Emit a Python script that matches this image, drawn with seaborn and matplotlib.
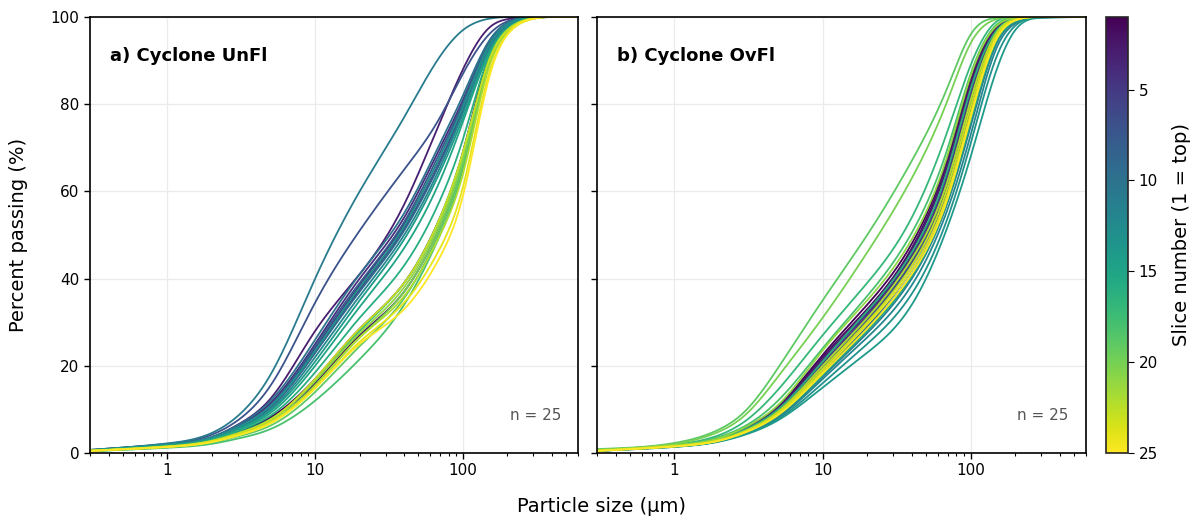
import numpy as np
import pandas as pd
import matplotlib
matplotlib.use("Agg")
import matplotlib.pyplot as plt
import matplotlib.ticker as mticker
import seaborn as sns

# ---------------- data (percent passing at the sieve sizes) ----------------
sizes_um = [0.3, 1, 2, 3, 5, 10, 20, 40, 70, 100, 150, 200, 300, 600]
slices = list(range(1, 26))

unfl = {
    1:  [0.5, 1.5, 2.9, 4.8, 8.2, 17, 28.5, 39, 54, 69, 91, 97.5, 99.8, 100],
    2:  [0.5, 1.5, 2.8, 4.6, 7.8, 16, 27, 37, 52, 67, 90, 97, 99.7, 100],
    3:  [0.6, 1.8, 3.6, 6.5, 12.5, 28, 41, 57, 76, 88, 97.5, 99.5, 100, 100],
    4:  [0.6, 1.9, 3.6, 6.2, 11.5, 25, 40, 54, 70, 81, 94, 98.5, 99.9, 100],
    5:  [0.6, 1.9, 3.5, 6.0, 11, 24, 38.5, 52.5, 68, 80, 93.5, 98.3, 99.9, 100],
    6:  [0.6, 1.8, 3.4, 5.8, 10.5, 23, 37.5, 51.5, 67, 79, 93, 98, 99.8, 100],
    7:  [0.7, 2.1, 4.2, 7.5, 15.5, 34.5, 51, 65, 77, 87, 96, 99, 100, 100],
    8:  [0.6, 1.9, 3.5, 6.0, 11, 24.5, 39, 53, 69, 80.5, 94, 98.5, 99.9, 100],
    9:  [0.6, 1.9, 3.4, 5.8, 10.5, 23, 37, 51, 66.5, 78.5, 93, 98, 99.8, 100],
    10: [0.7, 2.0, 3.7, 6.4, 12, 26, 41, 55, 71, 82, 94.5, 98.7, 99.9, 100],
    11: [0.7, 2.2, 4.6, 8.5, 18, 40, 60, 77, 91, 97, 99.6, 100, 100, 100],
    12: [0.6, 1.8, 3.3, 5.6, 10, 22, 36, 50, 65.5, 78, 92.5, 97.8, 99.8, 100],
    13: [0.6, 1.9, 3.5, 5.9, 10.8, 23.5, 38, 52, 68, 79.5, 93.5, 98.3, 99.9, 100],
    14: [0.6, 1.8, 3.2, 5.4, 9.7, 21, 35, 49, 64.5, 77, 92, 97.5, 99.8, 100],
    15: [0.6, 1.7, 3.1, 5.2, 9.2, 20, 33.5, 47, 62.5, 76, 91.5, 97.3, 99.8, 100],
    16: [0.5, 1.6, 3.0, 5.0, 8.6, 18.5, 31, 43, 58, 72, 91, 97.2, 99.8, 100],
    17: [0.5, 1.5, 2.8, 4.6, 7.8, 16.5, 28, 39, 54, 69, 90, 97, 99.7, 100],
    18: [0.4, 1.2, 2.1, 3.3, 5.5, 12, 21.5, 34, 50, 65, 89, 96.5, 99.7, 100],
    19: [0.4, 1.3, 2.4, 3.8, 6.3, 14, 24.5, 35.5, 51, 66, 89, 96.5, 99.7, 100],
    20: [0.5, 1.4, 2.6, 4.2, 7.2, 15.5, 26.5, 37, 52, 67, 89.5, 96.8, 99.7, 100],
    21: [0.5, 1.5, 2.7, 4.4, 7.5, 16.5, 27.5, 38, 53, 68, 90, 97, 99.7, 100],
    22: [0.5, 1.4, 2.6, 4.2, 7.1, 15.5, 26.5, 36, 50, 64, 88.5, 96.5, 99.7, 100],
    23: [0.5, 1.5, 2.8, 4.5, 7.7, 17, 28.5, 39, 54, 69, 90, 97, 99.7, 100],
    24: [0.5, 1.4, 2.6, 4.1, 7.0, 15, 25.5, 34.5, 47, 61, 87, 96, 99.6, 100],
    25: [0.5, 1.4, 2.5, 4.0, 6.8, 14.8, 25, 33, 45, 59, 86, 96, 99.6, 100],
}

ovfl = {
    1:  [0.6, 1.8, 3.4, 5.8, 10.8, 22.5, 34, 48, 68, 86, 97.8, 99.7, 100, 100],
    2:  [0.6, 1.8, 3.3, 5.6, 10.5, 22, 33, 47, 67, 85, 97.5, 99.7, 100, 100],
    3:  [0.6, 1.8, 3.3, 5.5, 10.3, 21.5, 32.5, 46.5, 66, 84, 97.3, 99.6, 100, 100],
    4:  [0.6, 1.7, 3.2, 5.4, 10, 21, 32, 45.5, 64.5, 83, 97, 99.6, 100, 100],
    5:  [0.6, 1.7, 3.1, 5.3, 9.8, 20.5, 31.5, 45, 63.5, 82, 96.7, 99.5, 100, 100],
    6:  [0.5, 1.6, 3.0, 5.1, 9.5, 20, 31, 44, 62.5, 81, 96.3, 99.5, 100, 100],
    7:  [0.5, 1.6, 3.0, 5.0, 9.3, 19.5, 30.5, 43.5, 61.5, 80, 96, 99.4, 100, 100],
    8:  [0.5, 1.6, 2.9, 4.9, 9.1, 19, 30, 43, 60.5, 79, 95.7, 99.3, 100, 100],
    9:  [0.5, 1.5, 2.9, 4.8, 8.9, 18.5, 29, 42, 59.5, 78, 95.3, 99.2, 100, 100],
    10: [0.5, 1.5, 2.8, 4.7, 8.6, 18, 28.5, 41, 58.5, 76.5, 94.8, 99, 100, 100],
    11: [0.5, 1.5, 2.8, 4.6, 8.4, 17.5, 27.5, 40, 57.5, 75, 94, 98.8, 100, 100],
    12: [0.5, 1.5, 2.7, 4.5, 8.1, 17, 26.5, 38.5, 56, 73, 93, 98.5, 99.9, 100],
    13: [0.5, 1.4, 2.7, 4.4, 7.8, 16, 25, 36.5, 54, 71, 91, 98, 99.9, 100],
    14: [0.5, 1.4, 2.6, 4.2, 7.5, 15, 23, 34, 52, 68, 88, 97, 99.8, 100],
    15: [0.5, 1.5, 2.8, 4.7, 8.6, 17.8, 28, 40.5, 58, 76, 94.5, 99, 100, 100],
    16: [0.6, 1.7, 3.2, 5.4, 10, 21, 32.5, 46, 65, 83.5, 97, 99.6, 100, 100],
    17: [0.7, 1.9, 4.1, 7.3, 14.5, 27, 39, 54, 74, 89, 99, 100, 100, 100],
    18: [0.6, 1.8, 3.7, 6.2, 12, 24, 36, 50.5, 70, 87, 98.3, 99.9, 100, 100],
    19: [0.9, 2.3, 5.4, 9.6, 19.5, 35, 50, 67, 84, 96, 99.8, 100, 100, 100],
    20: [0.8, 2.1, 4.9, 8.7, 17.5, 31, 46, 63, 81, 94, 99.5, 100, 100, 100],
    21: [0.6, 1.8, 3.4, 5.9, 11, 23.5, 35, 49, 68.5, 86.5, 98, 99.8, 100, 100],
    22: [0.5, 1.6, 3.0, 5.1, 9.5, 20, 31, 44.5, 62.5, 81, 96.5, 99.5, 100, 100],
    23: [0.5, 1.6, 2.9, 4.9, 9.2, 19.3, 30, 43, 61, 79.5, 96, 99.4, 100, 100],
    24: [0.5, 1.5, 2.9, 4.8, 8.9, 18.7, 29.5, 42, 59.5, 78, 95.5, 99.3, 100, 100],
    25: [0.5, 1.5, 2.8, 4.7, 8.7, 18.2, 28.5, 41, 58.5, 77, 95, 99.2, 100, 100],
}

panel_titles = ["a) Cyclone UnFl", "b) Cyclone OvFl"]
n_label = "n = 25"


# ---------------- smooth drawing of each curve (cubic spline in log-size) ----
def natural_spline(x, y, xn):
    x = np.asarray(x, float); y = np.asarray(y, float)
    n = len(x)
    h = np.diff(x)
    A = np.zeros((n, n)); r = np.zeros(n)
    A[0, 0] = A[-1, -1] = 1.0
    for i in range(1, n - 1):
        A[i, i - 1] = h[i - 1]
        A[i, i] = 2 * (h[i - 1] + h[i])
        A[i, i + 1] = h[i]
        r[i] = 6 * ((y[i + 1] - y[i]) / h[i] - (y[i] - y[i - 1]) / h[i - 1])
    M = np.linalg.solve(A, r)
    idx = np.clip(np.searchsorted(x, xn) - 1, 0, n - 2)
    x0, x1 = x[idx], x[idx + 1]
    hh = h[idx]
    a = (x1 - xn) / hh
    b = (xn - x0) / hh
    return (a * y[idx] + b * y[idx + 1]
            + ((a**3 - a) * M[idx] + (b**3 - b) * M[idx + 1]) * hh**2 / 6)


def long_frame(table):
    lx = np.log10(sizes_um)
    fine = np.linspace(lx[0], lx[-1], 400)
    rows = []
    for s in slices:
        yv = np.clip(natural_spline(lx, table[s], fine), 0, 100)
        yv = np.maximum.accumulate(yv)
        rows.append(pd.DataFrame({"size": 10**fine, "passing": yv, "slice": s}))
    return pd.concat(rows, ignore_index=True)


# ---------------- figure ----------------
sns.set_style("ticks")
plt.rcParams["font.family"] = ["DejaVu Sans"]
plt.rcParams["text.color"] = "black"
plt.rcParams["axes.labelcolor"] = "black"
plt.rcParams["xtick.color"] = "black"
plt.rcParams["ytick.color"] = "black"

fig = plt.figure(figsize=(11.91, 5.18), dpi=100)
ax1 = fig.add_axes([0.0756, 0.1255, 0.4097, 0.8417])
ax2 = fig.add_axes([0.5013, 0.1255, 0.4105, 0.8417], sharey=ax1)
cax = fig.add_axes([0.9286, 0.1255, 0.0185, 0.8417])

for ax, table, title in zip([ax1, ax2], [unfl, ovfl], panel_titles):
    df = long_frame(table)
    sns.lineplot(data=df, x="size", y="passing", hue="slice",
                 palette="viridis", hue_norm=(1, 25), estimator=None,
                 sort=False, legend=False, lw=1.3, ax=ax)
    ax.set_xscale("log")
    ax.set_xlim(0.3, 600)
    ax.set_ylim(0, 100)
    ax.set_yticks([0, 20, 40, 60, 80, 100])
    ax.xaxis.set_major_locator(mticker.FixedLocator([1, 10, 100]))
    ax.xaxis.set_major_formatter(mticker.FixedFormatter(["1", "10", "100"]))
    ax.xaxis.set_minor_locator(mticker.LogLocator(base=10, subs=np.arange(2, 10)))
    ax.xaxis.set_minor_formatter(mticker.NullFormatter())
    ax.grid(True, which="major", color="#ebebeb", lw=0.9)
    ax.set_axisbelow(True)
    ax.set_xlabel("")
    ax.set_ylabel("")
    ax.tick_params(axis="both", which="major", labelsize=11, length=4, width=1)
    ax.tick_params(axis="x", which="minor", length=2.5, width=0.8)
    for sp in ax.spines.values():
        sp.set_visible(True)
        sp.set_color("black")
        sp.set_linewidth(1.2)
    ax.text(0.04, 0.91, title, transform=ax.transAxes, fontsize=13,
            fontweight="bold", ha="left", va="center")
    ax.text(0.965, 0.085, n_label, transform=ax.transAxes, fontsize=11,
            color="#555555", ha="right", va="center")

ax1.set_ylabel("Percent passing (%)", fontsize=14)
ax1.yaxis.set_label_coords(-0.127, 0.5)
ax2.tick_params(axis="y", labelleft=False)
fig.text(0.505, 0.023, "Particle size (µm)", ha="center", va="center", fontsize=14)

sm = plt.cm.ScalarMappable(cmap="viridis", norm=plt.Normalize(1, 25))
cb = fig.colorbar(sm, cax=cax)
cb.set_ticks([5, 10, 15, 20, 25])
cax.invert_yaxis()
cax.tick_params(labelsize=11, length=4)
cb.outline.set_linewidth(1.2)
cb.set_label("Slice number (1 = top)", fontsize=14)
cax.yaxis.set_label_coords(3.0, 0.5)

fig.savefig("out.png", dpi=100)
